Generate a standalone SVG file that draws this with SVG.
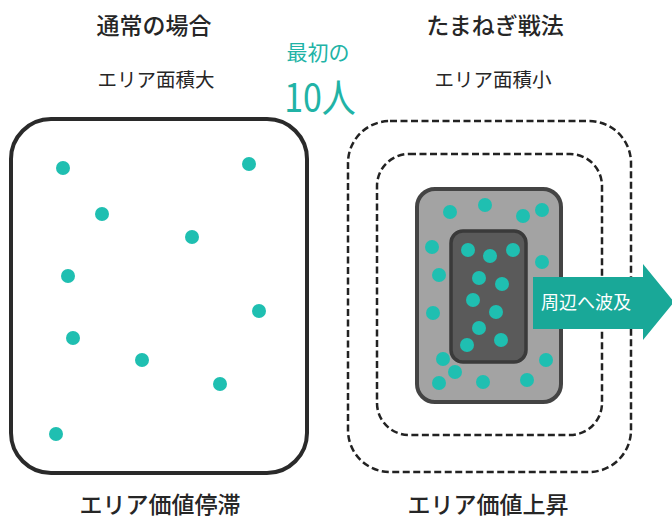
<svg xmlns="http://www.w3.org/2000/svg" width="672" height="520" viewBox="0 0 672 520">
<style>
.t{font-family:"Noto Sans CJK JP","Noto Sans",sans-serif;fill:#262626;text-anchor:middle}
.h{font-size:23px;font-weight:500}
.s{font-size:19.5px}
.tl{font-family:"Noto Sans CJK JP","Noto Sans",sans-serif;fill:#21b3a6;text-anchor:middle}
.d{fill:#1fbfb1}
.dash{fill:none;stroke:#222;stroke-width:2.5;stroke-dasharray:7 3.5}
</style>
<rect width="672" height="520" fill="#fff"/>
<text class="t h" x="154" y="34">通常の場合</text>
<text class="t h" x="495" y="34">たまねぎ戦法</text>
<text class="t s" x="156" y="87">エリア面積大</text>
<text class="t s" x="493" y="87">エリア面積小</text>
<text class="tl" x="318" y="60" font-size="21">最初の</text>
<text class="tl" font-size="34" transform="translate(320,112) scale(1,1.15)">10人</text>
<text class="t h" x="160" y="513">エリア価値停滞</text>
<text class="t h" x="488" y="513">エリア価値上昇</text>

<g id="normal">
<rect x="11" y="119" width="296" height="354" rx="40" fill="#fff" stroke="#2a2a2a" stroke-width="4"/>
<circle class="d" cx="63" cy="168" r="7"/>
<circle class="d" cx="249" cy="164" r="7"/>
<circle class="d" cx="102" cy="214" r="7"/>
<circle class="d" cx="192" cy="237" r="7"/>
<circle class="d" cx="68" cy="276" r="7"/>
<circle class="d" cx="259" cy="311" r="7"/>
<circle class="d" cx="73" cy="338" r="7"/>
<circle class="d" cx="142" cy="360" r="7"/>
<circle class="d" cx="220" cy="384" r="7"/>
<circle class="d" cx="56" cy="434" r="7"/>
</g>

<g id="onion">
<rect class="dash" x="348" y="121" width="283" height="351" rx="42"/>
<rect class="dash" x="377" y="154" width="225" height="281" rx="32"/>
<rect x="417" y="189" width="144" height="213" rx="18" fill="#a3a3a3" stroke="#444" stroke-width="4"/>
<rect x="451" y="231" width="75" height="131" rx="12" fill="#5a5a5a" stroke="#3a3a3a" stroke-width="3.5"/>
<circle class="d" cx="450" cy="212" r="7"/>
<circle class="d" cx="485" cy="205" r="7"/>
<circle class="d" cx="523" cy="216" r="7"/>
<circle class="d" cx="542" cy="210" r="7"/>
<circle class="d" cx="432" cy="247" r="7"/>
<circle class="d" cx="542" cy="262" r="7"/>
<circle class="d" cx="439" cy="275" r="7"/>
<circle class="d" cx="433" cy="313" r="7"/>
<circle class="d" cx="547" cy="322" r="7"/>
<circle class="d" cx="443" cy="359" r="7"/>
<circle class="d" cx="455" cy="372" r="7"/>
<circle class="d" cx="546" cy="360" r="7"/>
<circle class="d" cx="439" cy="383" r="7"/>
<circle class="d" cx="483" cy="382" r="7"/>
<circle class="d" cx="527" cy="380" r="7"/>
<circle class="d" cx="468" cy="250" r="7"/>
<circle class="d" cx="490" cy="256" r="7"/>
<circle class="d" cx="513" cy="250" r="7"/>
<circle class="d" cx="479" cy="278" r="7"/>
<circle class="d" cx="502" cy="284" r="7"/>
<circle class="d" cx="473" cy="300" r="7"/>
<circle class="d" cx="496" cy="312" r="7"/>
<circle class="d" cx="479" cy="328" r="7"/>
<circle class="d" cx="501" cy="340" r="7"/>
<circle class="d" cx="467" cy="345" r="7"/>
</g>

<g id="arrow">
<polygon points="533,277 643,277 643,264 674,302 643,340 643,329 533,329" fill="#19a898"/>
<text x="586" y="309" font-family="'Noto Sans CJK JP','Noto Sans',sans-serif" font-size="18" fill="#fff" text-anchor="middle">周辺へ波及</text>
</g>
</svg>
